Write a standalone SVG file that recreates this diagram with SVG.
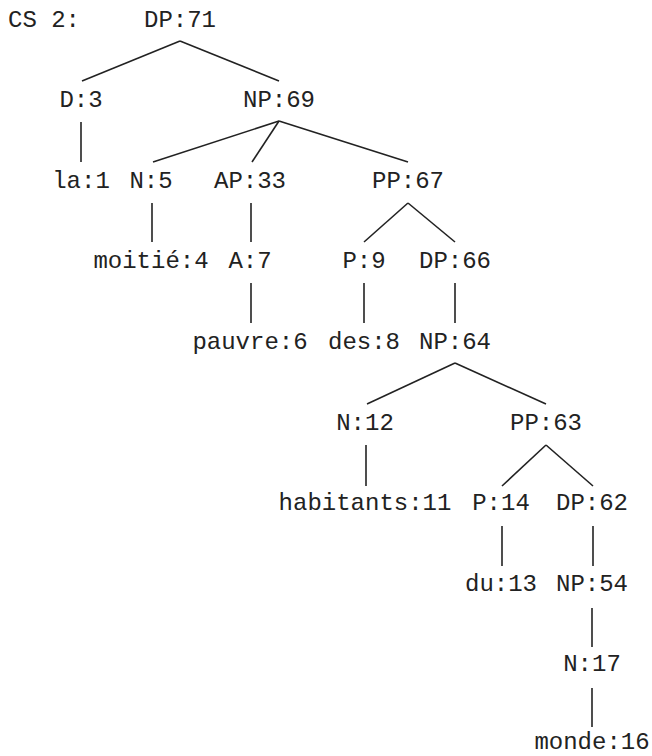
<svg xmlns="http://www.w3.org/2000/svg" width="652" height="756" viewBox="0 0 652 756">
<style>
text{font-family:"Liberation Mono","Courier New",monospace;font-size:24px;fill:#222;text-anchor:middle}
.e line{stroke:#222;stroke-width:1.6;stroke-linecap:butt}
</style>
<rect width="652" height="756" fill="#fff"/>
<text x="8" y="27" style="text-anchor:start">CS 2:</text>
<g class="e" id="edges">
<line x1="180" y1="41" x2="82" y2="81"/>
<line x1="180" y1="41" x2="279" y2="81"/>
<line x1="81" y1="122" x2="81" y2="162"/>
<line x1="279" y1="121" x2="153" y2="162"/>
<line x1="279" y1="121" x2="252" y2="162"/>
<line x1="279" y1="121" x2="408" y2="162"/>
<line x1="152" y1="203" x2="152" y2="242"/>
<line x1="251" y1="203" x2="251" y2="242"/>
<line x1="408" y1="203" x2="364" y2="242"/>
<line x1="408" y1="203" x2="455" y2="242"/>
<line x1="251" y1="283" x2="251" y2="323"/>
<line x1="364" y1="283" x2="364" y2="323"/>
<line x1="455" y1="283" x2="455" y2="323"/>
<line x1="455" y1="363" x2="367" y2="404"/>
<line x1="455" y1="363" x2="546" y2="404"/>
<line x1="366" y1="445" x2="366" y2="486"/>
<line x1="546" y1="445" x2="502" y2="486"/>
<line x1="546" y1="445" x2="593" y2="486"/>
<line x1="502" y1="526" x2="502" y2="566"/>
<line x1="593" y1="526" x2="593" y2="566"/>
<line x1="592" y1="608" x2="592" y2="647"/>
<line x1="592" y1="688" x2="592" y2="727"/>
</g>
<g id="DP71"><text x="180" y="27">DP:71</text></g>
<g id="D3"><text x="81" y="107">D:3</text></g>
<g id="NP69"><text x="279" y="107">NP:69</text></g>
<g id="la1"><text x="81" y="188">la:1</text></g>
<g id="N5"><text x="151" y="188">N:5</text></g>
<g id="AP33"><text x="250" y="188">AP:33</text></g>
<g id="PP67"><text x="408" y="188">PP:67</text></g>
<g id="moitie4"><text x="151" y="268">moitié:4</text></g>
<g id="A7"><text x="250" y="268">A:7</text></g>
<g id="P9"><text x="364" y="268">P:9</text></g>
<g id="DP66"><text x="455" y="268">DP:66</text></g>
<g id="pauvre6"><text x="250" y="349">pauvre:6</text></g>
<g id="des8"><text x="364" y="349">des:8</text></g>
<g id="NP64"><text x="455" y="349">NP:64</text></g>
<g id="N12"><text x="365" y="430">N:12</text></g>
<g id="PP63"><text x="546" y="430">PP:63</text></g>
<g id="habitants11"><text x="365" y="510">habitants:11</text></g>
<g id="P14"><text x="501" y="510">P:14</text></g>
<g id="DP62"><text x="592" y="510">DP:62</text></g>
<g id="du13"><text x="501" y="591">du:13</text></g>
<g id="NP54"><text x="592" y="591">NP:54</text></g>
<g id="N17"><text x="592" y="671">N:17</text></g>
<g id="monde16"><text x="592" y="749">monde:16</text></g>
</svg>
